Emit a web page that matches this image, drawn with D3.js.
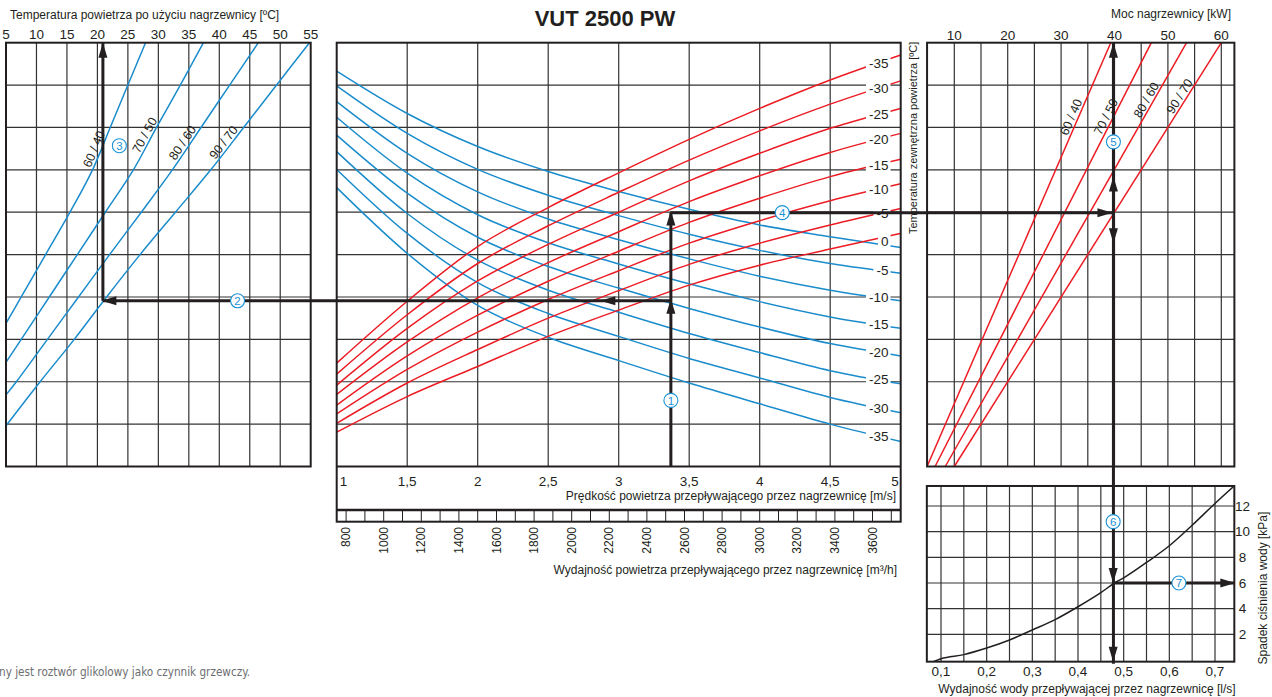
<!DOCTYPE html>
<html>
<head>
<meta charset="utf-8">
<script src="https://cdn.jsdelivr.net/npm/d3@7/dist/d3.min.js"></script>
<style>
  body { margin: 0; background: white; }
  svg { display: block; }
  text { font-family: "Liberation Sans", Arial, Helvetica, sans-serif; fill: #231f20; }
</style>
</head>
<body>
<script>
// ---- values ----
// the three upper panels share an unlabeled vertical grid of 10 rows (0 = bottom)
const tempTicks = [5, 10, 15, 20, 25, 30, 35, 40, 45, 50, 55]
const velocity = [1, 1.5, 2, 2.5, 3, 3.5, 4, 4.5, 5]
const velocityLabels = ["1", "1,5", "2", "2,5", "3", "3,5", "4", "4,5", "5"]
const flowLabels = [800, 1000, 1200, 1400, 1600, 1800, 2000, 2200, 2400, 2600, 2800, 3000, 3200, 3400, 3600]
const powerTicks = [10, 20, 30, 40, 50, 60]
const waterTicks = [0.1, 0.2, 0.3, 0.4, 0.5, 0.6, 0.7]
const waterLabels = ["0,1", "0,2", "0,3", "0,4", "0,5", "0,6", "0,7"]
const dropTicks = [2, 4, 6, 8, 10, 12]
const outdoorTemps = [-35, -30, -25, -20, -15, -10, -5, 0]
const waterPairs = ["60 / 40", "70 / 50", "80 / 60", "90 / 70"]

// left panel: [air temp after heater, row]
const left6040 = [[5, 3.38], [7.5, 4], [11.5, 5], [15.5, 6], [19.2, 7], [22.1, 8], [25.0, 9], [27.9, 10]]
const left7050 = [[5, 2.46], [7.5, 3], [12.1, 4], [16.7, 5], [21.3, 6], [25.9, 7], [29.7, 8], [33.6, 9], [37.4, 10]]
const left8060 = [[5, 1.69], [6.7, 2], [11.8, 3], [16.9, 4], [22.0, 5], [27.2, 6], [32.3, 7], [37.0, 8], [41.7, 9], [46.4, 10]]
const left9070 = [[5, 0.96], [10.6, 2], [16.2, 3], [21.5, 4], [27.0, 5], [32.8, 6], [38.6, 7], [44.0, 8], [49.4, 9], [54.8, 10]]
const leftLabelRows = [7.43, 7.74, 7.55, 7.55]

// middle panel: row at each velocity, one line per outdoor temp (-35 first)
const redRows = [
    [2.44, 3.90, 5.19, 6.11, 6.93, 7.72, 8.45, 9.12, 9.71],
    [2.18, 3.58, 4.79, 5.68, 6.47, 7.23, 7.92, 8.55, 9.10],
    [1.92, 3.26, 4.38, 5.24, 6.00, 6.74, 7.39, 7.98, 8.45],
    [1.70, 2.94, 3.98, 4.81, 5.54, 6.25, 6.86, 7.41, 7.86],
    [1.45, 2.61, 3.57, 4.37, 5.08, 5.76, 6.33, 6.84, 7.25],
    [1.24, 2.29, 3.17, 3.94, 4.62, 5.27, 5.80, 6.27, 6.67],
    [1.02, 1.97, 2.76, 3.50, 4.15, 4.77, 5.27, 5.70, 6.09],
    [0.81, 1.65, 2.36, 3.07, 3.69, 4.28, 4.75, 5.13, 5.50]
]
const blueRows = [
    [6.58, 5.03, 3.80, 3.05, 2.50, 1.97, 1.48, 1.00, 0.59],
    [7.01, 5.50, 4.34, 3.61, 3.07, 2.55, 2.09, 1.63, 1.27],
    [7.43, 5.97, 4.87, 4.16, 3.64, 3.14, 2.69, 2.26, 1.95],
    [7.82, 6.45, 5.41, 4.72, 4.21, 3.73, 3.29, 2.90, 2.61],
    [8.24, 6.92, 5.94, 5.28, 4.78, 4.31, 3.89, 3.53, 3.26],
    [8.61, 7.39, 6.48, 5.84, 5.35, 4.90, 4.49, 4.16, 3.91],
    [8.98, 7.86, 7.01, 6.40, 5.92, 5.48, 5.10, 4.79, 4.56],
    [9.33, 8.33, 7.55, 6.96, 6.49, 6.07, 5.70, 5.42, 5.17]
]

// right panel: straight lines, power [kW] at row 0 and row 10
const powerAtRow0 = [4.9, 6.4, 8.3, 10.0]
const powerAtRow10 = [39.3, 46.9, 53.5, 60.0]
const rightLabelRows = [8.18, 8.18, 8.57, 8.65]

// water side pressure drop
const waterFlow = [0.083, 0.1, 0.15, 0.2, 0.25, 0.3, 0.35, 0.4, 0.45, 0.48, 0.5, 0.55, 0.6, 0.65, 0.7, 0.742]
const pressureDrop = [-0.13, 0.1, 0.42, 0.93, 1.56, 2.34, 3.15, 4.15, 5.25, 6.0, 6.4, 7.6, 8.9, 10.5, 12.2, 13.56]

// worked example (arrows 1..7)
const exVelocity = 3.37, exRowBlue = 3.91, exRowRed = 5.99
const exTemp = 20.9, exPower = 39.8, exWater = 0.477, exDrop = 6.0

const colors = {
    ink: "#231f20",
    grid: "#333333",
    blue: "#1a8ccc",
    red: "#ec1c24",
    marker: "#1b93d8",
    note: "#6d6e71"
}

// ---- scales ----
const yRow = d3.scaleLinear().domain([0, 10]).range([466.5, 42.7])
const xTemp = d3.scaleLinear().domain([5, 55]).range([6, 310.7])
const xVel = d3.scaleLinear().domain([1, 5]).range([336.7, 900.7])
const xFlow = d3.scaleLinear().domain([750, 3750]).range([336.7, 900.7])
const xPow = d3.scaleLinear().domain([10, 60]).range([954.3, 1221.3])
const xWater = d3.scaleLinear().domain([0.1, 0.7]).range([941, 1215])
const yDrop = d3.scaleLinear().domain([0, 12]).range([660, 506])

const rows = d3.range(0, 11)
const R = { x0: xPow(4.9), x1: xPow(62.45) }
const B = { x0: xWater(0.069), x1: xWater(0.7423), y0: yDrop(13.56), y1: yDrop(-0.13) }

const svg = d3.select("body").append("svg")
    .attr("width", 1272).attr("height", 697)

function gridLines(g, xs, ys, x0, x1, y0, y1) {
    g.selectAll(null).data(xs).join("line")
        .attr("x1", d => d).attr("x2", d => d).attr("y1", y0).attr("y2", y1)
        .attr("stroke", colors.grid).attr("stroke-width", 1.2)
    g.selectAll(null).data(ys).join("line")
        .attr("x1", x0).attr("x2", x1).attr("y1", d => d).attr("y2", d => d)
        .attr("stroke", colors.grid).attr("stroke-width", 1.2)
}
function clip(id, x0, y0, x1, y1) {
    svg.append("clipPath").attr("id", id).append("rect")
        .attr("x", x0).attr("y", y0).attr("width", x1 - x0).attr("height", y1 - y0)
}
function frame(x0, y0, x1, y1) {
    svg.append("rect").attr("x", x0).attr("y", y0).attr("width", x1 - x0).attr("height", y1 - y0)
        .attr("fill", "none").attr("stroke", colors.ink).attr("stroke-width", 2)
}
function label(txt, x, y, size, anchor, rot) {
    const t = svg.append("text").attr("x", x).attr("y", y).attr("dy", "0.35em")
        .attr("font-size", size).attr("text-anchor", anchor || "middle").text(txt)
    if (rot) t.attr("transform", `rotate(${rot},${x},${y})`)
    return t
}
// label sitting on a line, rotated with it
function lineLabel(txt, p, q, size) {
    const ang = Math.atan2(q[1] - p[1], q[0] - p[0]) * 180 / Math.PI
    const mx = (p[0] + q[0]) / 2, my = (p[1] + q[1]) / 2
    svg.append("text")
        .attr("transform", `translate(${mx},${my}) rotate(${ang})`)
        .attr("y", -2.5).attr("font-size", size).attr("text-anchor", "middle").text(txt)
}

// ---- titles ----
svg.append("text").attr("x", 605).attr("y", 26).attr("text-anchor", "middle")
    .attr("font-size", 22).attr("font-weight", "bold").text("VUT 2500 PW")
label("Temperatura powietrza po użyciu nagrzewnicy [ºC]", 10, 15, 12, "start")
label("Moc nagrzewnicy [kW]", 1231, 13.5, 12, "end")

// ---- left panel ----
const gl = svg.append("g")
gridLines(gl, tempTicks.slice(1, -1).map(xTemp), rows.slice(1, -1).map(yRow), xTemp(5), xTemp(55), yRow(10), yRow(0))
tempTicks.forEach(t => label(t, xTemp(t), 34, 13.5))
clip("clipL", xTemp(5), yRow(10), xTemp(55), yRow(0))
const leftLine = d3.line().x(d => xTemp(d[0])).y(d => yRow(d[1])).curve(d3.curveCatmullRom.alpha(0.5))
const leftSeries = [left6040, left7050, left8060, left9070]
svg.append("g").attr("clip-path", "url(#clipL)")
    .selectAll("path").data(leftSeries).join("path")
        .attr("d", leftLine).attr("fill", "none")
        .attr("stroke", colors.blue).attr("stroke-width", 1.5)
leftSeries.forEach((s, i) => {
    const at = r => xTemp(d3.scaleLinear().domain(s.map(d => d[1])).range(s.map(d => d[0]))(r))
    const r = leftLabelRows[i]
    lineLabel(waterPairs[i], [at(r - 0.3), yRow(r - 0.3)], [at(r + 0.3), yRow(r + 0.3)], 12.5)
})
frame(xTemp(5), yRow(10), xTemp(55), yRow(0))

// ---- middle panel ----
const gm = svg.append("g")
gridLines(gm, velocity.slice(1, -1).map(xVel), rows.slice(1, -1).map(yRow), xVel(1), xVel(5), yRow(10), yRow(0))
clip("clipM", xVel(1), yRow(10), xVel(5), yRow(0))
const midLine = d3.line().x((d, i) => xVel(velocity[i])).y(d => yRow(d)).curve(d3.curveMonotoneX)
const gc = svg.append("g").attr("clip-path", "url(#clipM)")
gc.selectAll(".blue").data(blueRows).join("path").attr("class", "blue")
    .attr("d", midLine).attr("fill", "none").attr("stroke", colors.blue).attr("stroke-width", 1.5)
gc.selectAll(".red").data(redRows).join("path").attr("class", "red")
    .attr("d", midLine).attr("fill", "none").attr("stroke", colors.red).attr("stroke-width", 1.5)

// outdoor temperature labels at the right end, knocked out of the lines
const labelV = 4.84
const rowAt = (r, v) => d3.scaleLinear().domain(velocity).range(r)(v)
const midLabels = []
outdoorTemps.forEach((t, k) => {
    if (t === 0) return
    midLabels.push({ t, row: rowAt(redRows[k], labelV) })
    midLabels.push({ t, row: rowAt(blueRows[k], labelV) })
})
midLabels.push({ t: 0, row: (rowAt(redRows[7], labelV) + rowAt(blueRows[7], labelV)) / 2 })
midLabels.forEach(d => {
    const g = svg.append("g")
    const t = g.append("text").attr("x", 888.5).attr("y", yRow(d.row)).attr("dy", "0.35em")
        .attr("text-anchor", "end").attr("font-size", 13.5).text(d.t)
    const bb = t.node().getBBox()
    g.insert("rect", "text").attr("x", bb.x - 3).attr("width", bb.width + 5)
        .attr("y", yRow(d.row) - 8.5).attr("height", 17).attr("fill", "white")
})

// velocity axis and flow ruler
velocity.forEach((v, i) => {
    const anchor = i === 0 ? "start" : i === velocity.length - 1 ? "end" : "middle"
    const x = i === 0 ? xVel(v) + 3 : i === velocity.length - 1 ? xVel(v) - 2 : xVel(v)
    label(velocityLabels[i], x, 481, 13.5, anchor)
})
label("Prędkość powietrza przepływającego przez nagrzewnicę [m/s]", 896, 496, 12, "end")
svg.append("g").selectAll("line").data(d3.range(800, 3800, 100)).join("line")
    .attr("x1", d => xFlow(d)).attr("x2", d => xFlow(d)).attr("y1", 510).attr("y2", 521.7)
    .attr("stroke", colors.ink).attr("stroke-width", 1)
svg.append("line").attr("x1", xVel(1)).attr("x2", xVel(5)).attr("y1", 510).attr("y2", 510)
    .attr("stroke", colors.ink).attr("stroke-width", 2.5)
flowLabels.forEach(f => label(f, xFlow(f), 527, 12, "end", -90))
label("Wydajność powietrza przepływającego przez nagrzewnicę [m³/h]", 897, 570, 12, "end")
frame(xVel(1), yRow(10), xVel(5), 521.7)
svg.append("line").attr("x1", xVel(1)).attr("x2", xVel(5)).attr("y1", yRow(0)).attr("y2", yRow(0))
    .attr("stroke", colors.ink).attr("stroke-width", 2)

// ---- right panel (power) ----
const gr = svg.append("g")
gridLines(gr, d3.range(10, 61, 5).map(xPow), rows.slice(1, -1).map(yRow), R.x0, R.x1, yRow(10), yRow(0))
powerTicks.forEach(p => label(p, xPow(p), 35, 13.5))
label("Temperatura zewnętrzna powietrza [ºC]", 913, 41.7, 11, "end", -90)
clip("clipR", R.x0, yRow(10), R.x1, yRow(0))
const powerLines = powerAtRow0.map((p, i) => [[p, 0], [powerAtRow10[i], 10]])
svg.append("g").attr("clip-path", "url(#clipR)")
    .selectAll("path").data(powerLines).join("path")
        .attr("d", d3.line().x(d => xPow(d[0])).y(d => yRow(d[1])))
        .attr("fill", "none").attr("stroke", colors.red).attr("stroke-width", 1.5)
powerLines.forEach((l, i) => {
    const at = r => xPow(l[0][0] + (l[1][0] - l[0][0]) * r / 10)
    const r = rightLabelRows[i]
    lineLabel(waterPairs[i], [at(r - 0.3), yRow(r - 0.3)], [at(r + 0.3), yRow(r + 0.3)], 12.5)
})
frame(R.x0, yRow(10), R.x1, yRow(0))

// ---- bottom right panel (pressure drop) ----
const gb = svg.append("g")
gridLines(gb, d3.range(0.1, 0.701, 0.05).map(xWater), dropTicks.map(yDrop), B.x0, B.x1, B.y0, B.y1)
clip("clipB", B.x0, B.y0, B.x1, B.y1)
svg.append("path").attr("clip-path", "url(#clipB)")
    .datum(waterFlow.map((q, i) => [q, pressureDrop[i]]))
    .attr("d", d3.line().x(d => xWater(d[0])).y(d => yDrop(d[1])).curve(d3.curveMonotoneX))
    .attr("fill", "none").attr("stroke", colors.ink).attr("stroke-width", 1.5)
frame(B.x0, B.y0, B.x1, B.y1)
dropTicks.forEach(d => label(d, 1242.5, yDrop(d), 13.5))
waterTicks.forEach((w, i) => label(waterLabels[i], xWater(w), 671.7, 13.5))
label("Wydajność wody przepływającej przez nagrzewnicę [l/s]", 1087, 688.3, 12)
label("Spadek ciśnienia wody [kPa]", 1262.7, 588, 12, "middle", -90)

// ---- worked example arrows ----
const ga = svg.append("g")
function shaft(x1, y1, x2, y2) {
    ga.append("line").attr("x1", x1).attr("y1", y1).attr("x2", x2).attr("y2", y2)
        .attr("stroke", colors.ink).attr("stroke-width", 3)
}
function head(x, y, dir) {
    const L = 15, W = 4.5
    const pts = {
        up: [[x, y], [x - W, y + L], [x + W, y + L]],
        down: [[x, y], [x - W, y - L], [x + W, y - L]],
        left: [[x, y], [x + L, y - W], [x + L, y + W]],
        right: [[x, y], [x - L, y - W], [x - L, y + W]]
    }[dir]
    ga.append("polygon").attr("points", pts.map(p => p.join(",")).join(" ")).attr("fill", colors.ink)
}
function marker(x, y, n) {
    ga.append("circle").attr("cx", x).attr("cy", y).attr("r", 7)
        .attr("fill", "white").attr("stroke", colors.marker).attr("stroke-width", 1.1)
    ga.append("text").attr("x", x).attr("y", y).attr("dy", "0.36em").attr("text-anchor", "middle")
        .attr("font-size", 11.5).style("fill", colors.marker).text(n)
}
const ax = xVel(exVelocity), lx = xTemp(exTemp), px = xPow(exPower), wx = xWater(exWater)
shaft(ax, yRow(0), ax, yRow(exRowRed))
head(ax, yRow(3.96), "up")
head(ax, yRow(6.04), "up")
shaft(ax, yRow(exRowBlue), lx, yRow(exRowBlue))
head(xVel(2.87), yRow(exRowBlue), "left")
head(lx - 1.5, yRow(exRowBlue), "left")
shaft(lx, yRow(exRowBlue), lx, yRow(10))
head(lx, yRow(10), "up")
shaft(ax, yRow(exRowRed), px, yRow(exRowRed))
head(px - 1, yRow(exRowRed), "right")
shaft(px, yRow(10), px, B.y1 + 2)
head(px, yRow(10), "up")
head(px, yRow(6.84), "up")
head(px, yRow(5.27), "down")
head(wx, yDrop(exDrop), "down")
head(wx, B.y1, "down")
shaft(wx, yDrop(exDrop), B.x1, yDrop(exDrop))
head(B.x1 + 1, yDrop(exDrop), "right")
marker(ax, yRow(1.56), 1)
marker(xTemp(43), yRow(exRowBlue), 2)
marker(xTemp(23.6), yRow(7.57), 3)
marker(xVel(4.16), yRow(exRowRed), 4)
marker(px, yRow(7.66), 5)
marker(wx, yDrop(10.78), 6)
marker(xWater(0.621), yDrop(exDrop), 7)

// ---- footnote, cut off at the page edge ----
svg.append("text").attr("x", -1).attr("y", 672).attr("dy", "0.35em")
    .attr("font-size", 12).attr("textLength", 251).attr("lengthAdjust", "spacingAndGlyphs")
    .style("fill", colors.note).style("font-family", "'DejaVu Sans Condensed', 'Liberation Sans', sans-serif")
    .text("ny jest roztwór glikolowy jako czynnik grzewczy.")
</script>
</body>
</html>
